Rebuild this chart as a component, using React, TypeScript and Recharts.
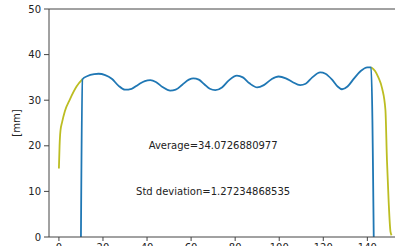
import React from "react";
import {
  LineChart,
  Line,
  XAxis,
  YAxis,
  ReferenceLine,
  ReferenceDot,
} from "recharts";

// main profile (blue)
const profileX = [
  10, 10.7, 13, 16, 18, 21, 24, 27, 30, 33, 36, 39, 41.5, 44, 47, 50.5, 53, 56,
  59, 61, 63.5, 66, 68.5, 71, 74, 77, 80.8, 83.5, 86.5, 90, 93, 96.5, 99.7, 103,
  106, 109.5, 112, 115, 118.6, 121, 124, 126.5, 128.5, 131, 134, 137, 140,
  141.7, 142.9,
];
const profileY = [
  0, 34.6, 35.3, 35.7, 35.8, 35.5, 34.7, 33.2, 32.3, 32.5, 33.4, 34.2, 34.4,
  34.0, 32.9, 32.1, 32.3, 33.4, 34.5, 34.8, 34.5, 33.5, 32.5, 32.2, 32.8, 34.3,
  35.4, 35.0, 33.7, 32.8, 33.3, 34.6, 35.2, 34.8, 34.0, 33.3, 33.6, 35.0, 36.1,
  35.8, 34.5, 33.0, 32.4, 33.0, 34.8, 36.4, 37.2, 37.2, 0,
];

// edge curves (olive)
const leftEdgeX = [0, 0.3, 0.7, 1.5, 2.7, 5, 8, 10.7];
const leftEdgeY = [15, 20, 23.3, 25.3, 27.6, 30.2, 33, 34.6];
const rightEdgeX = [141.7, 143.5, 145, 146.7, 148.2, 148.9, 149.7, 150.5, 151];
const rightEdgeY = [37.2, 36.4, 35, 32.6, 27.9, 16.9, 7.5, 1.2, 0.4];

const xTicks = [0, 20, 40, 60, 80, 100, 120, 140];
const yTicks = [0, 10, 20, 30, 40, 50];

const avgText = "Average=34.0726880977";
const stdText = "Std deviation=1.27234868535";

const zip = (xs: number[], ys: number[]) => xs.map((x, i) => ({ x, y: ys[i] }));

const profile = zip(profileX, profileY);
const leftEdge = zip(leftEdgeX, leftEdgeY);
const rightEdge = zip(rightEdgeX, rightEdgeY);

const axisColor = "#444";
const font = "DejaVu Sans";

export default function App() {
  return (
    <div style={{ position: "absolute", left: 0, top: 0, fontFamily: font }}>
      <LineChart
        width={412}
        height={268}
        margin={{ top: 9, right: 5, bottom: 0, left: 0 }}
      >
        <XAxis
          dataKey="x"
          type="number"
          domain={[-4.5, 158]}
          ticks={xTicks}
          allowDataOverflow
          stroke={axisColor}
          tickSize={4}
          tickMargin={3}
          height={31}
          tick={{ fontSize: 10, fill: "#222", fontFamily: font }}
        />
        <YAxis
          dataKey="y"
          type="number"
          domain={[0, 50]}
          ticks={yTicks}
          stroke={axisColor}
          width={49}
          tickSize={5}
          tickMargin={3}
          tick={{ fontSize: 10, fill: "#222", fontFamily: font }}
          label={{
            value: "[mm]",
            angle: -90,
            position: "center",
            dx: -8,
            fontSize: 10,
            fill: "#222",
            fontFamily: font,
          }}
        />
        <ReferenceLine y={50} stroke={axisColor} />
        <ReferenceLine x={158} stroke={axisColor} />
        <Line
          data={leftEdge}
          dataKey="y"
          type="monotone"
          stroke="#bcbd22"
          strokeWidth={1.8}
          dot={false}
          isAnimationActive={false}
        />
        <Line
          data={rightEdge}
          dataKey="y"
          type="monotone"
          stroke="#bcbd22"
          strokeWidth={1.8}
          dot={false}
          isAnimationActive={false}
        />
        <Line
          data={profile}
          dataKey="y"
          type="monotone"
          stroke="#1f77b4"
          strokeWidth={1.8}
          dot={false}
          isAnimationActive={false}
        />
        <ReferenceDot
          x={70}
          y={20}
          r={0}
          stroke="none"
          fill="none"
          label={{
            value: avgText,
            position: "center",
            fontSize: 10,
            fill: "#222",
            fontFamily: font,
          }}
        />
        <ReferenceDot
          x={70}
          y={10}
          r={0}
          stroke="none"
          fill="none"
          label={{
            value: stdText,
            position: "center",
            fontSize: 10,
            fill: "#222",
            fontFamily: font,
          }}
        />
      </LineChart>
    </div>
  );
}
